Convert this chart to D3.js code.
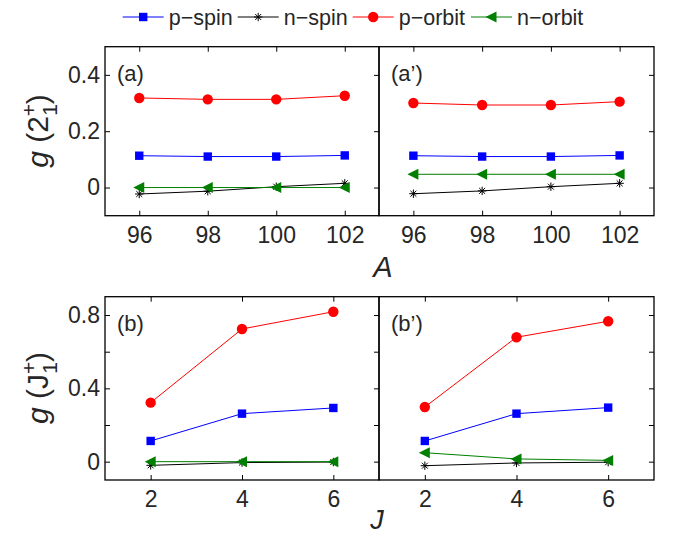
<!DOCTYPE html>
<html><head><meta charset="utf-8">
<script src="https://cdn.jsdelivr.net/npm/d3@7"></script>
<style>body{margin:0;background:#fff}svg{display:block}text{font-family:"Liberation Sans",Arial,sans-serif;fill:#262626}</style>
</head><body>
<svg id="c" width="674" height="537"></svg>
<script>
// ---------- data ----------
const seriesNames = ["p\u2212spin", "n\u2212spin", "p\u2212orbit", "n\u2212orbit"];
const massA = [96, 98, 100, 102];
const spinJ = [2, 4, 6];
// panel (a)
const a_pSpin  = [0.113, 0.110, 0.110, 0.114];
const a_nSpin  = [-0.023, -0.013, 0.003, 0.015];
const a_pOrbit = [0.318, 0.313, 0.313, 0.326];
const a_nOrbit = [0.000, 0.000, 0.000, 0.000];
// panel (a')
const ap_pSpin  = [0.113, 0.110, 0.110, 0.114];
const ap_nSpin  = [-0.022, -0.012, 0.003, 0.015];
const ap_pOrbit = [0.300, 0.293, 0.293, 0.305];
const ap_nOrbit = [0.047, 0.047, 0.047, 0.047];
// panel (b)
const b_pSpin  = [0.113, 0.262, 0.293];
const b_nSpin  = [-0.020, -0.005, -0.002];
const b_pOrbit = [0.322, 0.724, 0.818];
const b_nOrbit = [0.000, 0.000, 0.000];
// panel (b')
const bp_pSpin  = [0.113, 0.262, 0.295];
const bp_nSpin  = [-0.022, -0.007, -0.003];
const bp_pOrbit = [0.298, 0.679, 0.766];
const bp_nOrbit = [0.049, 0.015, 0.007];

const topYTicks = [0, 0.2, 0.4];
const topYLabels = ["0", "0.2", "0.4"];
const botYTicks = [0, 0.2, 0.4, 0.6, 0.8];
const botYLabels = ["0", "", "0.4", "", "0.8"];

// ---------- styles ----------
const colors = ["#0000ff", "#000000", "#ff0000", "#007f00"];
const markers = ["square", "star", "circle", "triLeft"];

const svg = d3.select("#c");

function drawMarker(g, type, x, y, color) {
  if (type === "square") {
    g.append("rect").attr("x", x - 4.2).attr("y", y - 4.2).attr("width", 8.4).attr("height", 8.4).attr("fill", color);
  } else if (type === "circle") {
    g.append("circle").attr("cx", x).attr("cy", y).attr("r", 5.2).attr("fill", color);
  } else if (type === "triLeft") {
    g.append("path").attr("d", `M${x-6},${y}L${x+5},${y-5.5}L${x+5},${y+5.5}Z`).attr("fill", color);
  } else if (type === "star") {
    const r = 4.2, p = [];
    for (let k = 0; k < 4; k++) {
      const a = k * Math.PI / 4 + Math.PI / 2;
      p.push(`M${x + r*Math.cos(a)},${y + r*Math.sin(a)}L${x - r*Math.cos(a)},${y - r*Math.sin(a)}`);
    }
    g.append("path").attr("d", p.join("")).attr("stroke", color).attr("stroke-width", 1).attr("fill", "none");
  }
}

function panel(opt) {
  const {x0, x1, y0, y1, xDomain, yDomain, xVals, series, xTicks, yTicks, yLabels, showXLabels, showYLabels, leftTicks, label} = opt;
  const x = d3.scaleLinear().domain(xDomain).range([x0, x1]);
  const y = d3.scaleLinear().domain(yDomain).range([y1, y0]);
  const g = svg.append("g");
  const tl = 5;
  const ax = d3.axisBottom(x).tickValues(xTicks).tickSizeInner(-tl).tickSizeOuter(0).tickPadding(11)
    .tickFormat(showXLabels ? d3.format("d") : () => "");
  const gx = g.append("g").attr("transform", `translate(0,${y1})`).call(ax);
  const gxt = g.append("g").attr("transform", `translate(0,${y0})`)
    .call(d3.axisTop(x).tickValues(xTicks).tickSizeInner(-tl).tickSizeOuter(0).tickFormat(() => ""));
  const ay = d3.axisLeft(y).tickValues(yTicks).tickSizeInner(leftTicks ? -tl : 0).tickSizeOuter(0).tickPadding(5)
    .tickFormat((d, i) => showYLabels ? yLabels[i] : "");
  const gy = g.append("g").attr("transform", `translate(${x0},0)`).call(ay);
  const gyr = g.append("g").attr("transform", `translate(${x1},0)`)
    .call(d3.axisRight(y).tickValues(yTicks).tickSizeInner(-tl).tickSizeOuter(0).tickFormat(() => ""));
  [gx, gxt, gy, gyr].forEach(a => {
    a.select(".domain").remove();
    a.selectAll(".tick line").attr("stroke", "#000").attr("stroke-width", 1);
    a.selectAll(".tick text").style("font-size", "23px").attr("fill", "#262626");
  });
  gx.selectAll(".tick text").attr("dy", "0.71em");
  series.forEach((vals, si) => {
    const line = d3.line().x((d, i) => x(xVals[i])).y(d => y(d));
    g.append("path").datum(vals).attr("d", line).attr("fill", "none")
      .attr("stroke", colors[si]).attr("stroke-width", 1);
  });
  series.forEach((vals, si) => {
    vals.forEach((v, i) => drawMarker(g, markers[si], x(xVals[i]), y(v), colors[si]));
  });
  g.append("rect").attr("x", x0).attr("y", y0).attr("width", x1 - x0).attr("height", y1 - y0)
    .attr("fill", "none").attr("stroke", "#000").attr("stroke-width", 1.3);
  g.append("text").attr("x", x0 + 12).attr("y", y0 + 34).style("font-size", "22px").text(label);
}

const L0 = 105, L1 = 379, R1 = 654;
const T0 = 46.7, T1 = 215.7, B0 = 296.7, B1 = 480;

panel({x0: L0, x1: L1, y0: T0, y1: T1, xDomain: [95, 103], yDomain: [-0.1, 0.5], xVals: massA,
  series: [a_pSpin, a_nSpin, a_pOrbit, a_nOrbit], xTicks: massA, yTicks: topYTicks, yLabels: topYLabels,
  showXLabels: true, showYLabels: true, leftTicks: true, label: "(a)"});
panel({x0: L1, x1: R1, y0: T0, y1: T1, xDomain: [95, 103], yDomain: [-0.1, 0.5], xVals: massA,
  series: [ap_pSpin, ap_nSpin, ap_pOrbit, ap_nOrbit], xTicks: massA, yTicks: topYTicks, yLabels: topYLabels,
  showXLabels: true, showYLabels: false, leftTicks: false, label: "(a\u2019)"});
panel({x0: L0, x1: L1, y0: B0, y1: B1, xDomain: [1, 7], yDomain: [-0.1, 0.9], xVals: spinJ,
  series: [b_pSpin, b_nSpin, b_pOrbit, b_nOrbit], xTicks: spinJ, yTicks: botYTicks, yLabels: botYLabels,
  showXLabels: true, showYLabels: true, leftTicks: true, label: "(b)"});
panel({x0: L1, x1: R1, y0: B0, y1: B1, xDomain: [1, 7], yDomain: [-0.1, 0.9], xVals: spinJ,
  series: [bp_pSpin, bp_nSpin, bp_pOrbit, bp_nOrbit], xTicks: spinJ, yTicks: botYTicks, yLabels: botYLabels,
  showXLabels: true, showYLabels: false, leftTicks: false, label: "(b\u2019)"});

svg.append("text").attr("x", 383).attr("y", 277).attr("text-anchor", "middle")
  .style("font-size", "29px").style("font-style", "italic").text("A");
svg.append("text").attr("x", 377).attr("y", 529).attr("text-anchor", "middle")
  .style("font-size", "27px").style("font-style", "italic").text("J");

function yTitle(cy, base) {
  const g = svg.append("g").attr("transform", `translate(48,${cy}) rotate(-90)`);
  const t = g.append("text").attr("text-anchor", "middle").style("font-size", "30px");
  t.append("tspan").style("font-style", "italic").text("g");
  t.append("tspan").text(" (" + base);
  t.append("tspan").attr("dy", -12).style("font-size", "21px").text("+");
  t.append("tspan").attr("dx", -12).attr("dy", 21).style("font-size", "21px").text("1");
  t.append("tspan").attr("dy", -9).text(")");
}
yTitle(131, "2");
yTitle(388, "J");

const legendX = [122.7, 237.7, 352.7, 471];
const ly = 17;
seriesNames.forEach((name, i) => {
  const g = svg.append("g");
  const lx = legendX[i];
  g.append("line").attr("x1", lx).attr("x2", lx + 41).attr("y1", ly).attr("y2", ly)
    .attr("stroke", colors[i]).attr("stroke-width", 1);
  drawMarker(g, markers[i], lx + 20.5, ly, colors[i]);
  g.append("text").attr("x", lx + 46).attr("y", ly + 7.5).style("font-size", "21.5px").text(name);
});
</script>
</body></html>
